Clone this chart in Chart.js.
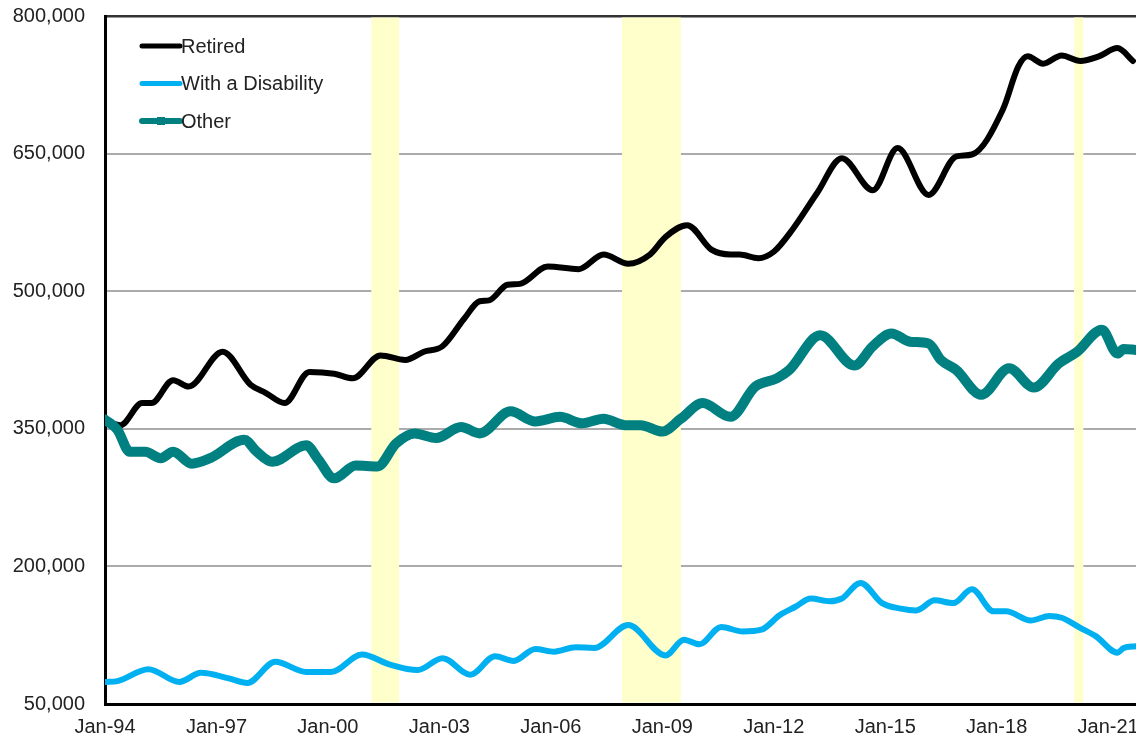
<!DOCTYPE html>
<html>
<head>
<meta charset="utf-8">
<script src="https://cdn.jsdelivr.net/npm/chart.js@4.4.1/dist/chart.umd.min.js"></script>
<style>
  html, body { margin: 0; padding: 0; background: #fff; }
  #wrap { width: 1136px; height: 741px; }
</style>
</head>
<body>
<div id="wrap"><canvas id="chart" width="1136" height="741"></canvas></div>
<script>
// x values are months counted from Jan-94
const tickMonths = [0, 36, 72, 108, 144, 180, 216, 252, 288, 324];
const tickLabels = ['Jan-94', 'Jan-97', 'Jan-00', 'Jan-03', 'Jan-06', 'Jan-09', 'Jan-12', 'Jan-15', 'Jan-18', 'Jan-21'];

// recession bands (start / end month)
const recessionStart = [86, 167, 313];
const recessionEnd = [95, 186, 316];

const retiredMonth = [0, 5, 12, 15, 22, 27, 38, 47, 52, 58, 66, 74, 80, 89, 97, 103, 109, 116, 121, 124,
    130, 134, 143, 153, 161, 169, 176, 181, 188, 196, 202, 205, 211, 216, 222, 230, 238, 248, 256, 266,
    275, 280, 290, 295, 298, 303, 309, 315, 321, 327, 332];
const retiredValue = [358000, 354000, 378000, 378000, 403000, 396000, 434000, 398000, 389000, 378000,
    412000, 410000, 405000, 430000, 425000, 434000, 440000, 470000, 489000, 490000,
    507000, 508000, 527000, 524000, 540000, 530000, 540000, 559000, 572000, 545000,
    540000, 540000, 536000, 543000, 567000, 607000, 645000, 610000, 656000, 605000,
    647000, 649000, 698000, 745000, 756000, 748000, 757000, 751000, 756000, 765000, 751000];

const disabilityMonth = [0, 4, 14, 24, 31, 40, 46, 55, 65, 73, 83, 92, 101, 109, 118, 126, 132, 139, 145, 152,
    158, 169, 181, 187, 192, 199, 206, 212, 218, 223, 228, 234, 238, 244, 251, 257, 262, 268, 274, 280,
    287, 291, 299, 305, 309, 315, 320, 327, 329, 333];
const disabilityValue = [74000, 75000, 88000, 74000, 84000, 78000, 73000, 96000, 85000, 85000,
    104000, 93000, 87000, 100000, 82000, 102000, 97000, 110000, 107000, 112000,
    111000, 136000, 103000, 120000, 115000, 134000, 129000, 131000, 147000, 156000,
    165000, 162000, 165000, 182000, 160000, 154000, 152000, 163000, 160000, 175000,
    151000, 151000, 141000, 146000, 144000, 133000, 124000, 106000, 111000, 113000];

const otherMonth = [0, 4, 8, 13, 18, 22, 28, 34, 45, 49, 54, 65, 69, 74, 81, 88, 94, 100, 107, 115,
    121, 131, 139, 147, 154, 161, 168, 173, 180, 186, 193, 202, 210, 217, 221, 231, 242, 248, 254, 260,
    266, 270, 275, 283, 292, 300, 308, 314, 322, 327, 329, 333];
const otherValue = [360000, 349000, 325000, 325000, 318000, 325000, 312000, 318000, 338000, 325000,
    314000, 332000, 316000, 296000, 310000, 309000, 334000, 345000, 340000, 352000,
    345000, 369000, 358000, 363000, 356000, 361000, 354000, 354000, 347000, 361000,
    378000, 363000, 396000, 405000, 414000, 452000, 419000, 440000, 454000, 445000,
    443000, 425000, 414000, 387000, 416000, 395000, 421000, 434000, 458000, 432000, 437000, 436000];

function toPoints(months, values) {
    return months.map((m, i) => ({ x: m, y: values[i] }));
}

const FONT = 'Liberation Sans, Arial, sans-serif';

// yellow recession shading behind the lines
const recessionPlugin = {
    id: 'recessions',
    beforeDatasetsDraw(chart) {
        const ctx = chart.ctx;
        const area = chart.chartArea;
        const x = chart.scales.x;
        ctx.save();
        ctx.fillStyle = '#FFFFCC';
        for (let i = 0; i < recessionStart.length; i++) {
            const x0 = x.getPixelForValue(recessionStart[i]);
            const x1 = x.getPixelForValue(recessionEnd[i]);
            ctx.fillRect(x0, area.top + 1.5, x1 - x0, area.bottom - area.top - 3);
        }
        ctx.restore();
    }
};

// legend drawn inside the plot, top left
const legendPlugin = {
    id: 'insideLegend',
    afterDatasetsDraw(chart) {
        const ctx = chart.ctx;
        const area = chart.chartArea;
        const x0 = area.left + 37;
        const x1 = area.left + 75;
        ctx.save();
        chart.data.datasets.forEach((ds, i) => {
            const y = area.top + 30 + i * 37.5;
            ctx.strokeStyle = ds.borderColor;
            ctx.lineWidth = i === 2 ? 6 : 5;
            ctx.lineCap = 'round';
            ctx.beginPath();
            ctx.moveTo(x0, y);
            ctx.lineTo(x1, y);
            ctx.stroke();
            if (i === 2) {
                ctx.fillStyle = ds.borderColor;
                ctx.fillRect((x0 + x1) / 2 - 4, y - 4, 8, 8);
            }
            ctx.fillStyle = '#222';
            ctx.font = '20px ' + FONT;
            ctx.textBaseline = 'middle';
            ctx.textAlign = 'left';
            ctx.fillText(ds.label, x1 + 1, y + 1);
        });
        ctx.restore();
    }
};

const ctx = document.getElementById('chart').getContext('2d');
const chart = new Chart(ctx, {
    type: 'line',
    data: {
        datasets: [{
            label: 'Retired',
            data: toPoints(retiredMonth, retiredValue),
            borderColor: '#000000',
            borderWidth: 6,
            order: 2
        }, {
            label: 'With a Disability',
            data: toPoints(disabilityMonth, disabilityValue),
            borderColor: '#00B0F0',
            borderWidth: 6,
            order: 1
        }, {
            label: 'Other',
            data: toPoints(otherMonth, otherValue),
            borderColor: '#008080',
            borderWidth: 10,
            order: 0
        }]
    },
    options: {
        responsive: false,
        animation: false,
        layout: { padding: { top: 16, right: 0, bottom: 0, left: 0 } },
        elements: {
            point: { radius: 0 },
            line: { cubicInterpolationMode: 'monotone', borderCapStyle: 'round', borderJoinStyle: 'round' }
        },
        plugins: {
            legend: { display: false },
            tooltip: { enabled: false }
        },
        scales: {
            x: {
                type: 'linear',
                min: 0,
                max: 333,
                afterBuildTicks: scale => {
                    scale.ticks = tickMonths.map(v => ({ value: v }));
                },
                afterFit: scale => {
                    scale.height = 37;
                    scale.paddingLeft = 0;
                    scale.paddingRight = 0;
                },
                grid: { display: false, drawTicks: false },
                border: { color: '#000', width: 3 },
                ticks: {
                    autoSkip: false,
                    maxRotation: 0,
                    padding: 11,
                    color: '#222',
                    font: { family: FONT, size: 20 },
                    callback: value => tickLabels[tickMonths.indexOf(value)]
                }
            },
            y: {
                min: 50000,
                max: 800000,
                afterFit: scale => {
                    scale.width = 105;
                    scale.paddingTop = 0;
                    scale.paddingBottom = 0;
                },
                grid: {
                    drawTicks: false,
                    color: c => c.tick && c.tick.value === 800000 ? '#333' : '#ABABAB',
                    lineWidth: c => c.tick && c.tick.value === 800000 ? 2.5 : 2
                },
                border: { color: '#000', width: 3 },
                ticks: {
                    stepSize: 150000,
                    padding: 20,
                    color: '#222',
                    font: { family: FONT, size: 20 },
                    callback: value => value.toLocaleString('en-US')
                }
            }
        }
    },
    plugins: [recessionPlugin, legendPlugin]
});
</script>
</body>
</html>
